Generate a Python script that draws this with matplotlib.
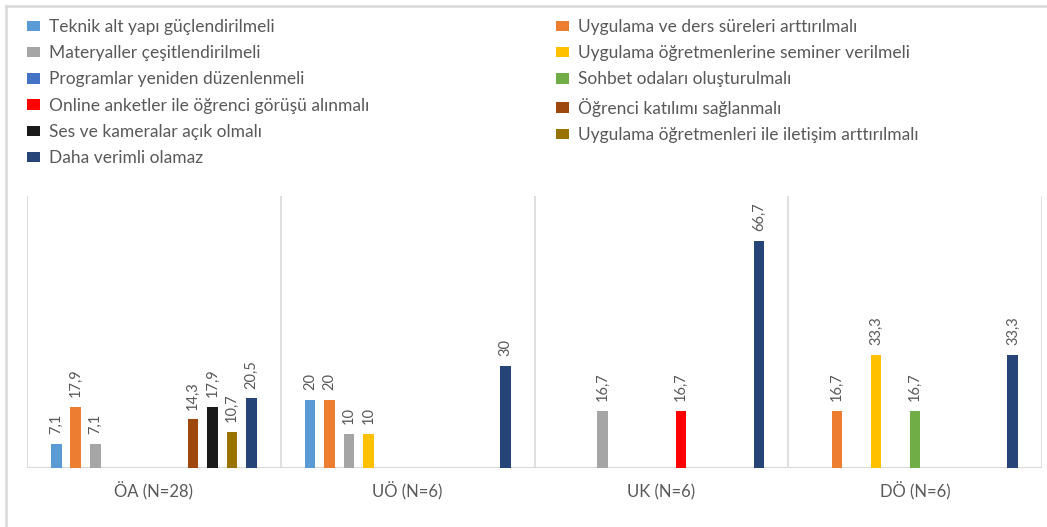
import matplotlib
matplotlib.use("Agg")
import matplotlib.pyplot as plt
from matplotlib.patches import Patch
from matplotlib.lines import Line2D
import numpy as np

plt.rcParams['font.family'] = ['Lato', 'DejaVu Sans']

groups = ["ÖA (N=28)", "UÖ (N=6)", "UK (N=6)", "DÖ (N=6)"]

series_names = [
    "Teknik alt yapı güçlendirilmeli",
    "Uygulama ve ders süreleri arttırılmalı",
    "Materyaller çeşitlendirilmeli",
    "Uygulama öğretmenlerine seminer verilmeli",
    "Programlar yeniden düzenlenmeli",
    "Sohbet odaları oluşturulmalı",
    "Online anketler ile öğrenci görüşü alınmalı",
    "Öğrenci katılımı sağlanmalı",
    "Ses ve kameralar açık olmalı",
    "Uygulama öğretmenleri ile iletişim arttırılmalı",
    "Daha verimli olamaz",
]

series_colors = [
    "#5B9BD5", "#ED7D31", "#A5A5A5", "#FFC000", "#4472C4", "#70AD47",
    "#FF0000", "#9E480E", "#1A1A1A", "#997300", "#264478",
]

# values per series, one entry per group (None = no answer)
teknik      = [7.1, 20, None, None]
uygulama    = [17.9, 20, None, 16.7]
materyal    = [7.1, 10, 16.7, None]
seminer     = [None, 10, None, 33.3]
programlar  = [None, None, None, None]
sohbet      = [None, None, None, 16.7]
online      = [None, None, 16.7, None]
katilim     = [14.3, None, None, None]
ses_kamera  = [17.9, None, None, None]
iletisim    = [10.7, None, None, None]
daha_verimli = [20.5, 30, 66.7, 33.3]

series_values = [teknik, uygulama, materyal, seminer, programlar, sohbet,
                 online, katilim, ses_kamera, iletisim, daha_verimli]

W, H = 1047, 527
fig = plt.figure(figsize=(W / 100, H / 100), dpi=100)

# outer chart frame (left and top edges)
frame_x, frame_y = 5.5 / W, 1 - 5.5 / H
fig.add_artist(Line2D([frame_x, frame_x], [0, frame_y], transform=fig.transFigure,
                      color="#D9D9D9", linewidth=1.8))
fig.add_artist(Line2D([frame_x, 1], [frame_y, frame_y], transform=fig.transFigure,
                      color="#D9D9D9", linewidth=1.8))

ax = fig.add_axes([27 / W, 1 - 468 / H, (1042 - 27) / W, (468 - 196) / H])
ax.set_xlim(0, len(groups))
ax.set_ylim(0, 80)

slot = 0.077
bar_w = 0.042
label_color = "#595959"
n_series = len(series_names)

for j, (vals, color) in enumerate(zip(series_values, series_colors)):
    for i, v in enumerate(vals):
        if v is None:
            continue
        x = i + 0.5 + (j - (n_series - 1) / 2) * slot
        ax.bar(x, v, width=bar_w, color=color, linewidth=0)
        ax.annotate(f"{v:g}".replace(".", ","), (x, v), xytext=(0, 7),
                    textcoords="offset points", rotation=90,
                    ha="center", va="bottom", fontsize=10.5,
                    color=label_color)

# category separators and baseline
for b in range(len(groups) + 1):
    ax.axvline(b, color="#D9D9D9", linewidth=1.2, zorder=0)
ax.axhline(0, color="#D9D9D9", linewidth=1.5, zorder=0)

for s in ax.spines.values():
    s.set_visible(False)
ax.set_yticks([])
ax.set_xticks(np.arange(len(groups)) + 0.5)
ax.set_xticklabels(groups, fontsize=12, color=label_color)
ax.tick_params(axis="x", length=0, pad=21.5)
for lbl in ax.get_xticklabels():
    lbl.set_verticalalignment("baseline")

handles = [Patch(facecolor=c, edgecolor="none") for c in series_colors]
leg_kw = dict(frameon=False, fontsize=12.5, handlelength=0.75,
              handleheight=0.55, handletextpad=0.5, labelspacing=0.59,
              borderaxespad=0, borderpad=0, labelcolor=label_color)

left_idx = [0, 2, 4, 6, 8, 10]
right_idx = [1, 3, 5, 7, 9]
fig.legend([handles[k] for k in left_idx], [series_names[k] for k in left_idx],
           loc="upper left", bbox_to_anchor=(27 / W, 1 - 19 / H), **leg_kw)
fig.legend([handles[k] for k in right_idx], [series_names[k] for k in right_idx],
           loc="upper left", bbox_to_anchor=(556 / W, 1 - 19 / H), **leg_kw)

fig.savefig("out.png", dpi=100, facecolor="white")
